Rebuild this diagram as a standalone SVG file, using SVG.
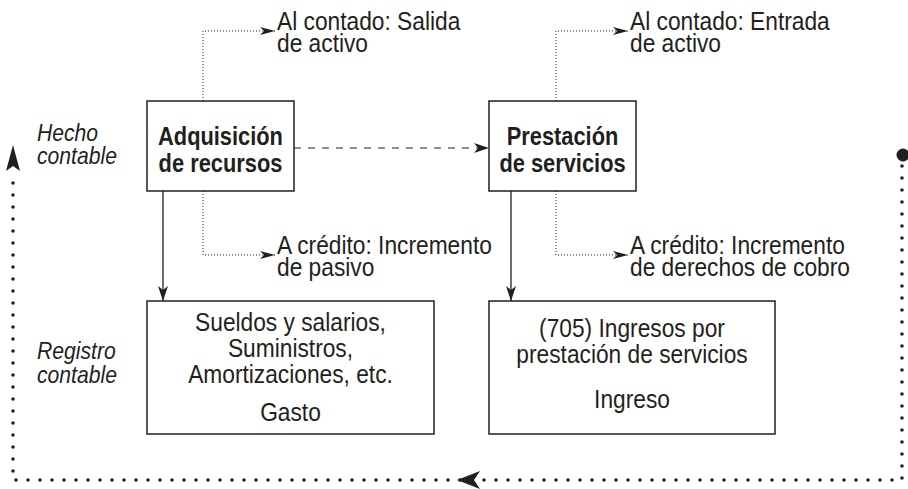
<svg xmlns="http://www.w3.org/2000/svg" width="908" height="489" viewBox="0 0 908 489">
<style>
.bg{fill:#fff}
.box{fill:#fff;stroke:#231f20;stroke-width:1.5}
.t{font-family:"Liberation Sans",Arial,sans-serif;font-size:25px;fill:#231f20}
.b{font-family:"Liberation Sans",Arial,sans-serif;font-size:26px;font-weight:bold;fill:#231f20}
.i{font-family:"Liberation Sans",Arial,sans-serif;font-size:23px;font-style:italic;fill:#231f20}
.solid{fill:none;stroke:#231f20;stroke-width:1.3}
.dash{fill:none;stroke:#231f20;stroke-width:1.2;stroke-dasharray:7 7}
.fine{fill:none;stroke:#231f20;stroke-width:1;stroke-dasharray:1 2}
.dots{fill:none;stroke:#231f20;stroke-width:3.6;stroke-linecap:round;stroke-dasharray:0 12}
.head{fill:#231f20}
</style>
<defs>
<marker id="ah" markerUnits="userSpaceOnUse" orient="auto" markerWidth="15" markerHeight="10" refX="15" refY="5">
<path class="head" d="M0,0 L15,5 L0,10 L4,5 z"/>
</marker>
<marker id="ahs" markerUnits="userSpaceOnUse" orient="auto" markerWidth="15" markerHeight="8" refX="15" refY="4">
<path class="head" d="M0,0 L15,4 L0,8 L4,4 z"/>
</marker>
</defs>
<rect class="bg" x="0" y="0" width="908" height="489"/>

<g id="connectors">
<path class="fine" d="M203,101 V31 H275" marker-end="url(#ahs)"/>
<path class="fine" d="M203,191 V255 H275" marker-end="url(#ahs)"/>
<path class="fine" d="M556,101 V31 H628" marker-end="url(#ahs)"/>
<path class="fine" d="M556,191 V255 H628" marker-end="url(#ahs)"/>
<path class="solid" d="M163,191 V301" marker-end="url(#ah)"/>
<path class="solid" d="M511,191 V301" marker-end="url(#ah)"/>
<path class="dash" d="M294,148 H489" marker-end="url(#ah)"/>
<path class="dots" d="M902,166 V480 H13 V178"/>
<circle class="head" cx="903" cy="155" r="6.5"/>
<path class="head" d="M457,480 L480,471 L474,480 L480,489 z"/>
<path class="head" d="M13,145 L20,171 L13,166 L6,171 z"/>
</g>

<g id="lbl-hecho">
<text class="i" transform="translate(37,141) scale(0.92,1)"><tspan x="0" y="0">Hecho</tspan><tspan x="0" y="23">contable</tspan></text>
</g>
<g id="lbl-registro">
<text class="i" transform="translate(37,359) scale(0.92,1)"><tspan x="0" y="0">Registro</tspan><tspan x="0" y="24">contable</tspan></text>
</g>

<g id="n-adquisicion">
<rect class="box" x="147" y="101" width="147" height="90"/>
<text class="b" text-anchor="middle" transform="translate(220.5,145) scale(0.84,1)"><tspan x="0" y="0">Adquisición</tspan><tspan x="0" y="27">de recursos</tspan></text>
</g>
<g id="n-prestacion">
<rect class="box" x="489" y="101" width="147" height="90"/>
<text class="b" text-anchor="middle" transform="translate(562.5,145) scale(0.84,1)"><tspan x="0" y="0">Prestación</tspan><tspan x="0" y="27">de servicios</tspan></text>
</g>

<g id="n-contado1">
<text class="t" transform="translate(277,30) scale(0.91,1)"><tspan x="0" y="0">Al contado: Salida</tspan><tspan x="0" y="22">de activo</tspan></text>
</g>
<g id="n-credito1">
<text class="t" transform="translate(277,254) scale(0.91,1)"><tspan x="0" y="0">A crédito: Incremento</tspan><tspan x="0" y="22">de pasivo</tspan></text>
</g>
<g id="n-contado2">
<text class="t" transform="translate(630,30) scale(0.91,1)"><tspan x="0" y="0">Al contado: Entrada</tspan><tspan x="0" y="22">de activo</tspan></text>
</g>
<g id="n-credito2">
<text class="t" transform="translate(630,254) scale(0.91,1)"><tspan x="0" y="0">A crédito: Incremento</tspan><tspan x="0" y="22">de derechos de cobro</tspan></text>
</g>

<g id="n-gasto">
<rect class="box" x="147" y="301" width="287" height="133"/>
<text class="t" text-anchor="middle" transform="translate(290.5,331) scale(0.91,1)"><tspan x="0" y="0">Sueldos y salarios,</tspan><tspan x="0" y="26">Suministros,</tspan><tspan x="0" y="52">Amortizaciones, etc.</tspan><tspan x="0" y="90">Gasto</tspan></text>
</g>
<g id="n-ingreso">
<rect class="box" x="489" y="301" width="286" height="133"/>
<text class="t" text-anchor="middle" transform="translate(632,337) scale(0.91,1)"><tspan x="0" y="0">(705) Ingresos por</tspan><tspan x="0" y="26">prestación de servicios</tspan><tspan x="0" y="71">Ingreso</tspan></text>
</g>
</svg>
